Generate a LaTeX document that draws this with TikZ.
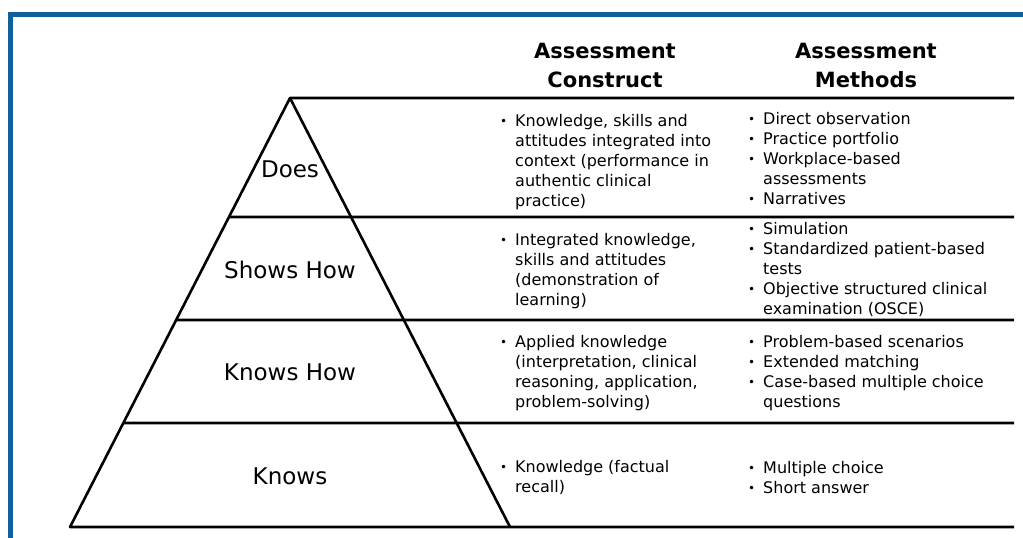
\documentclass[tikz,border=0pt]{standalone}
\usepackage{fontspec}
\setmainfont{DejaVu Sans}
\usetikzlibrary{calc,positioning}
\definecolor{frameblue}{HTML}{10609C}
\newcommand{\itm}{\makebox[15pt][l]{\raisebox{1pt}{\scalebox{0.75}{\textbullet}}}}
\newcommand{\ind}{\hspace*{15pt}}

\begin{document}
\begin{tikzpicture}[x=1pt,y=-1pt,
	rule/.style={line width=2.6pt},
	head/.style={align=center,font=\fontsize{21}{29}\selectfont\bfseries},
	level/.style={font=\fontsize{23}{28}\selectfont},
	list/.style={anchor=west,align=left,inner sep=0pt,font=\fontsize{16}{20}\selectfont}]
	\useasboundingbox (0,0) rectangle (1023,538);
	\draw [frameblue, line width=5pt] (10.5,560) -- (10.5,14.5) -- (1040,14.5);
	% pyramid
	\coordinate (apex) at (290,98);
	\coordinate (bl) at (70,527);
	\coordinate (br) at (510,527);
	\draw [rule, line join=round] (1014,98) -- (apex) -- (bl) -- (1014,527);
	\draw [rule] (apex) -- (br);
	\foreach \y in {217,320,423}
		\draw [rule] ($(apex)!{(\y-98)/429}!(bl)$) -- (1014,\y);
	% headings
	\node [head] (hc) at (605,65) {Assessment\\Construct};
	\node [head] (hm) at (866,65) {Assessment\\Methods};
	% levels
	\node [level] (l1) at (290,169) {Does};
	\node [level] (l2) at (290,270) {Shows How};
	\node [level] (l3) at (290,372) {Knows How};
	\node [level] (l4) at (290,476) {Knows};
	% constructs and methods
	\node [list] (c1) at (500,162.5) {\itm Knowledge, skills and\\\ind attitudes integrated into\\\ind context (performance in\\\ind authentic clinical\\\ind practice)};
	\node [list] (m1) at (748,158.5) {\itm Direct observation\\\itm Practice portfolio\\\itm Workplace-based\\\ind assessments\\\itm Narratives};
	\node [list] (c2) at (500,271.5) {\itm Integrated knowledge,\\\ind skills and attitudes\\\ind (demonstration of\\\ind learning)};
	\node [list] (m2) at (748,269.5) {\itm Simulation\\\itm Standardized patient-based\\\ind tests\\\itm Objective structured clinical\\\ind examination (OSCE)};
	\node [list] (c3) at (500,373.5) {\itm Applied knowledge\\\ind (interpretation, clinical\\\ind reasoning, application,\\\ind problem-solving)};
	\node [list] (m3) at (748,373.5) {\itm Problem-based scenarios\\\itm Extended matching\\\itm Case-based multiple choice\\\ind questions};
	\node [list] (c4) at (500,477.5) {\itm Knowledge (factual\\\ind recall)};
	\node [list] (m4) at (748,477.5) {\itm Multiple choice\\\itm Short answer};
\end{tikzpicture}
\end{document}
